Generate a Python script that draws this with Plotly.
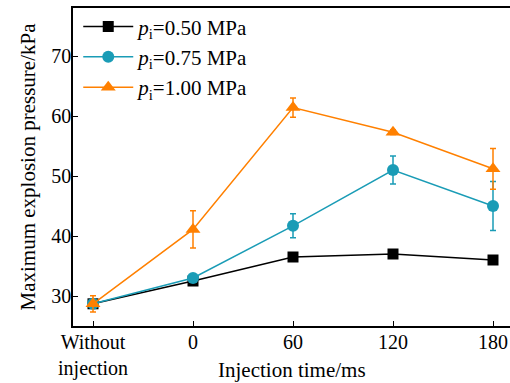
import plotly.graph_objects as go

categories = ["Without<br>injection", "0", "60", "120", "180"]
p050 = [28.7, 32.5, 36.5, 37.0, 36.0]
p050_err = [0.3, 0.2, 0.3, 0.3, 0.3]
p075 = [28.7, 33.0, 41.7, 51.0, 45.0]
p075_err = [0.4, 0.3, 2.0, 2.35, 4.1]
p100 = [28.7, 41.1, 61.4, 57.3, 51.2]
p100_err = [1.35, 3.1, 1.6, 0.4, 3.4]
names = ["<i>p</i><sub>i</sub>=0.50 MPa", "<i>p</i><sub>i</sub>=0.75 MPa", "<i>p</i><sub>i</sub>=1.00 MPa"]
colors = ["#000000", "#1a9cb6", "#ff8000"]
symbols = ["square", "circle", "triangle-up"]
sizes = [11, 12, 13]

xs = list(range(len(categories)))
fig = go.Figure()
for i, (vals, errs, name, c, s, sz) in enumerate(zip([p050, p075, p100], [p050_err, p075_err, p100_err], names, colors, symbols, sizes)):
    fig.add_trace(go.Scatter(
        x=xs, y=vals, name=name, mode="lines+markers", legendgroup=f"g{i}",
        line=dict(color=c, width=1.5),
        marker=dict(symbol=s, size=sz, color=c),
        error_y=dict(type="data", array=errs, color=c, thickness=1.5, width=3),
    ))

font = "Liberation Serif, Times New Roman, serif"
fig.update_layout(
    width=510, height=383,
    margin=dict(l=73, r=0, t=8, b=57),
    plot_bgcolor="white", paper_bgcolor="white",
    font=dict(family=font, size=20, color="black"),
    showlegend=True,
    legend=dict(x=0.012, y=1.005, xanchor="left", yanchor="top", bgcolor="rgba(0,0,0,0)",
                font=dict(size=21), itemwidth=50, tracegroupgap=0),
    xaxis=dict(range=[-0.2, 4.17], tickmode="array", tickvals=xs, ticktext=categories,
               showgrid=False, zeroline=False, showline=True, linecolor="black", linewidth=1.5,
               mirror=True, ticks="inside", ticklen=5, tickcolor="black", automargin=False,
               ticklabelstandoff=-3),
    yaxis=dict(range=[25, 78], tickvals=[30, 40, 50, 60, 70],
               showgrid=False, zeroline=False, showline=True, linecolor="black", linewidth=1.5,
               ticks="inside", ticklen=5, tickcolor="black", automargin=False,
               ticklabelstandoff=-4,
               title=dict(text="Maximum explosion pressure/kPa", font=dict(size=21), standoff=10)),
    annotations=[dict(text="Injection time/ms", xref="paper", yref="paper", x=0.5, y=-0.138,
                      xanchor="center", yanchor="middle", showarrow=False, font=dict(size=21))],
)
fig.write_html("out.html")
